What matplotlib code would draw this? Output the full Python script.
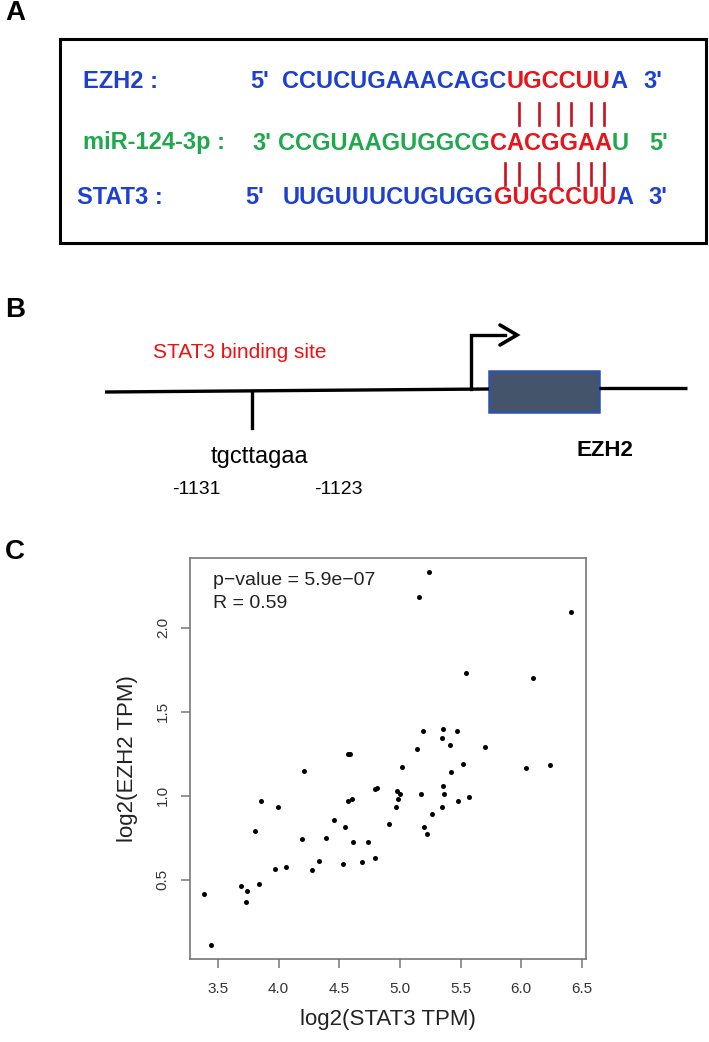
import matplotlib.pyplot as plt
from matplotlib.patches import Rectangle

plt.rcParams['font.family'] = ['Liberation Sans', 'DejaVu Sans']

# panel A: sequences (text, colour key)
ezh2_seq = [("CCUCUGAAACAGC", "blue"), ("UGCCUU", "red"), ("A", "blue")]
mir_seq = [("CCGUAAGUGGCG", "green"), ("CACGGAA", "red"), ("U", "green")]
stat3_seq = [("UUGUUUCUGUGG", "blue"), ("GUGCCUU", "red"), ("A", "blue")]

# panel B: promoter schematic labels
site_label = "STAT3 binding site"
motif = "tgcttagaa"
motif_start = "-1131"
motif_end = "-1123"
gene = "EZH2"

# panel C: log2(STAT3 TPM) vs log2(EZH2 TPM)
stat3 = [3.387, 3.442, 3.692, 3.739, 3.728, 3.838, 3.803, 3.854, 3.992, 3.972,
         4.058, 4.211, 4.195, 4.277, 4.333, 4.390, 4.453, 4.544, 4.530, 4.575,
         4.590, 4.574, 4.602, 4.613, 4.689, 4.734, 4.797, 4.796, 4.813, 4.907,
         4.965, 4.978, 4.984, 5.000, 5.019, 5.137, 5.176, 5.198, 5.225, 5.267,
         5.346, 5.357, 5.360, 5.412, 5.423, 5.478, 5.519, 5.571, 5.703, 6.041,
         6.237, 5.349, 5.236, 5.154, 6.410, 5.541, 6.099, 5.190, 5.355, 5.473]
ezh2 = [0.413, 0.111, 0.464, 0.433, 0.367, 0.474, 0.792, 0.970, 0.933, 0.565,
        0.576, 1.149, 0.740, 0.556, 0.613, 0.748, 0.855, 0.814, 0.593, 1.250,
        1.250, 0.970, 0.978, 0.724, 0.603, 0.724, 0.631, 1.042, 1.048, 0.831,
        0.933, 1.028, 0.978, 1.008, 1.169, 1.276, 1.008, 0.816, 0.774, 0.889,
        0.933, 1.058, 1.008, 1.304, 1.139, 0.970, 1.189, 0.992, 1.292, 1.163,
        1.181, 1.342, 2.330, 2.185, 2.092, 1.729, 1.702, 1.383, 1.395, 1.383]
p_text = "p\u2212value = 5.9e\u221207"
r_text = "R = 0.59"
x_ticks = [3.5, 4.0, 4.5, 5.0, 5.5, 6.0, 6.5]
y_ticks = [0.5, 1.0, 1.5, 2.0]

colors = {"blue": "#1d3fd2", "red": "#e8141c", "green": "#1fa84c"}

fig = plt.figure(figsize=(7.09, 10.42), dpi=100)

# overlay in pixel coordinates for the schematics
ax0 = fig.add_axes([0, 0, 1, 1])
ax0.set_xlim(0, 709)
ax0.set_ylim(1042, 0)
ax0.axis('off')

for letter, yy in [("A", 13), ("B", 310), ("C", 552)]:
    ax0.text(5, yy, letter, fontsize=20, fontweight='bold', va='center', ha='left')

# ---- panel A ----
ax0.add_patch(Rectangle((60, 39), 646, 204, fill=False, lw=2.2, ec='black'))


def seq_row(x0, y, pieces):
    t = ax0.text(x0, y, pieces[0][0], color=colors[pieces[0][1]], fontsize=17,
                 fontweight='bold', va='center', ha='left')
    for s, c in pieces[1:]:
        t = ax0.annotate(s, xy=(1, 0), xycoords=t, va='bottom', ha='left',
                         color=colors[c], fontsize=17, fontweight='bold')


rows = [("EZH2 :", "blue", 83, 82, "5'", 250, "3'", 643, ezh2_seq, 282),
        ("miR-124-3p :", "green", 83, 143, "3'", 252, "5'", 649, mir_seq, 278),
        ("STAT3 :", "blue", 77, 198, "5'", 245, "3'", 648, stat3_seq, 283)]
for name, c, xn, yy, p1, xp1, p2, xp2, seq, xs in rows:
    ax0.text(xn, yy, name, color=colors[c], fontsize=17, fontweight='bold', va='center')
    ax0.text(xp1, yy, p1, color=colors[c], fontsize=17, fontweight='bold', va='center')
    ax0.text(xp2, yy, p2, color=colors[c], fontsize=17, fontweight='bold', va='center')
    seq_row(xs, yy, seq)

for xb in [519, 539, 558, 571, 591, 604]:
    ax0.plot([xb, xb], [103, 125], color='#c8101e', lw=1.9)
for xb in [505, 519, 539, 558, 578, 591, 604]:
    ax0.plot([xb, xb], [163, 185], color='#c8101e', lw=1.9)

# ---- panel B ----
ax0.text(153, 353, site_label, color='#ee1111', fontsize=15, va='center', ha='left')
ax0.plot([105, 489], [392, 389], color='black', lw=2.4, solid_capstyle='butt')
ax0.plot([599, 687], [388, 388], color='black', lw=2.4, solid_capstyle='butt')
ax0.plot([252, 252], [392, 428], color='black', lw=2.4)
ax0.plot([471, 471, 505], [389, 335, 335], color='black', lw=2.4, solid_joinstyle='miter')
ax0.plot([500, 517, 500], [325, 335, 345], color='black', lw=2.6,
         solid_joinstyle='miter', solid_capstyle='round')
ax0.add_patch(Rectangle((489, 371), 110, 41, fc='#44546a', ec='#2f52a8', lw=1.8))
ax0.text(211, 457, motif, fontsize=17, va='center', ha='left')
ax0.text(172, 490, motif_start, fontsize=14, va='center', ha='left')
ax0.text(314, 490, motif_end, fontsize=14, va='center', ha='left')
ax0.text(577, 450, gene, fontsize=16, fontweight='bold', va='center', ha='left')

# ---- panel C ----
l, r, t, b = 190, 585.7, 557.7, 959.3
ax = fig.add_axes([l / 709, (1042 - b) / 1042, (r - l) / 709, (b - t) / 1042])
ax.plot(stat3, ezh2, 'o', color='black', ms=3.6, mew=0)
ax.set_xlim(3.269, 6.531)
ax.set_ylim(0.026, 2.417)
ax.set_xticks(x_ticks)
ax.set_yticks(y_ticks)
ax.set_xticklabels([f"{v:.1f}" for v in x_ticks])
ax.set_yticklabels([f"{v:.1f}" for v in y_ticks], rotation=90, va='center')
for s in ax.spines.values():
    s.set_color('#777777')
    s.set_linewidth(1.2)
ax.tick_params(axis='both', colors='#777777', labelcolor='#333333', labelsize=11, length=6.5, width=1.1)
ax.tick_params(axis='x', pad=10)
ax.tick_params(axis='y', pad=8)
ax.set_xlabel("log2(STAT3 TPM)", fontsize=16, va='center', color='#222222')
ax.xaxis.set_label_coords(0.5, -0.151)
ax.set_ylabel("log2(EZH2 TPM)", fontsize=16, va='center', color='#222222')
ax.yaxis.set_label_coords(-0.157, 0.5)
ax.text(0.058, 0.944, p_text, transform=ax.transAxes, fontsize=14, va='center', color='#222222')
ax.text(0.058, 0.887, r_text, transform=ax.transAxes, fontsize=14, va='center', color='#222222')

fig.savefig("out.png", dpi=100)
